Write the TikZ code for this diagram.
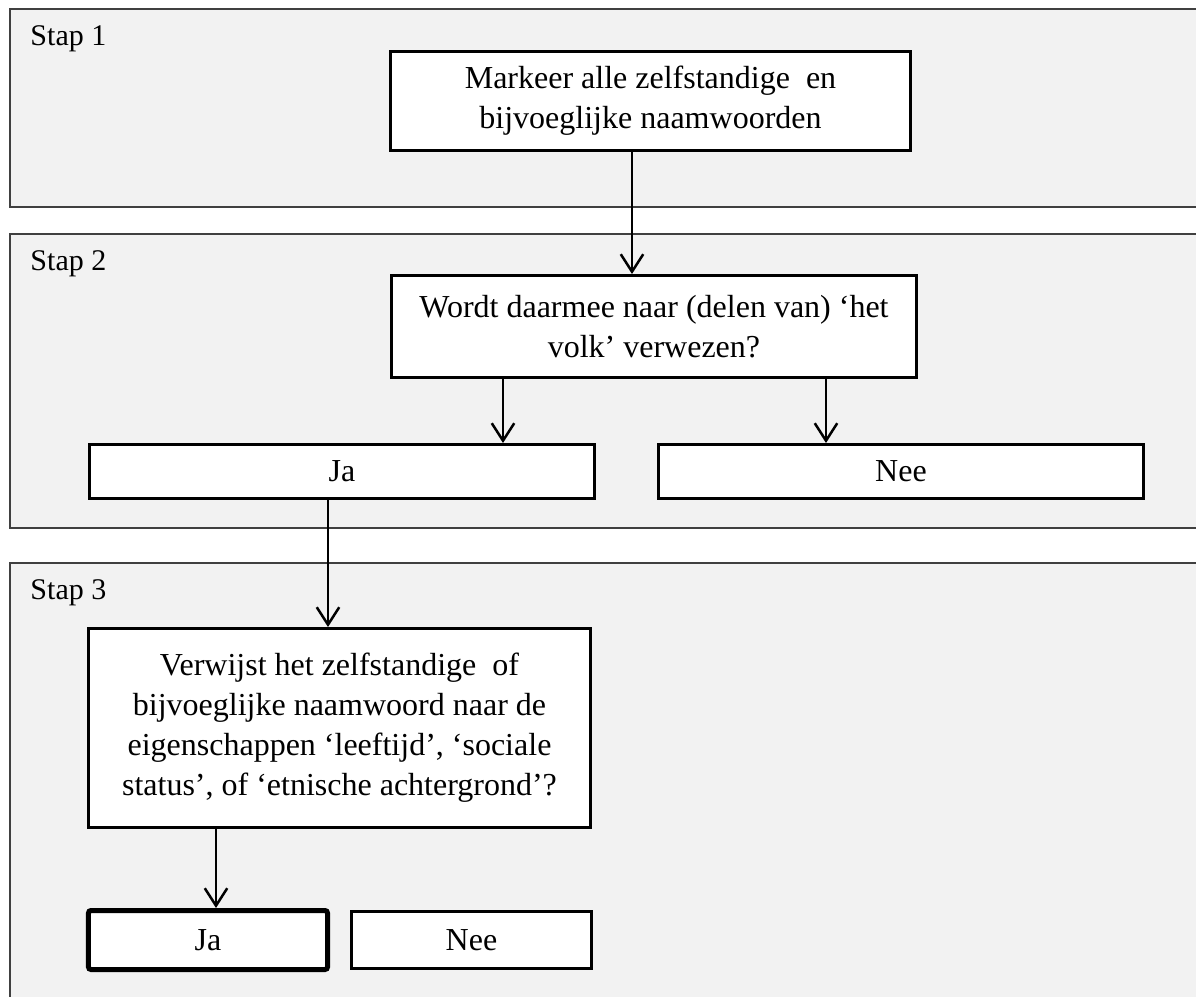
\documentclass[tikz,border=0pt]{standalone}
\usepackage{fontspec}
\setmainfont{Liberation Serif}
\usepackage{tikz}
\usetikzlibrary{arrows.meta,positioning}
\definecolor{panelgray}{HTML}{F2F2F2}
\definecolor{panelline}{HTML}{404040}

\begin{document}
\begin{tikzpicture}[x=0.4pt,y=-0.4pt,
    font=\fontsize{12}{16}\selectfont,
    panel/.style={draw=panelline,fill=panelgray,line width=0.6pt},
    box/.style={draw,fill=white,line width=1.2pt,align=center,inner sep=0pt,
      font=\fontsize{12.8}{16}\selectfont},
    arr/.style={-{Straight Barb[length=7pt,width=9pt]},line width=1pt}]
    \clip (0,0) rectangle (1196,996);
    \fill[white] (0,0) rectangle (1196,996);
    \draw[panel] (10,9) rectangle (1220,207);
    \draw[panel] (10,234) rectangle (1220,528);
    \draw[panel] (10,563) rectangle (1220,1020);
    \node[anchor=base west,inner sep=0pt] (stap1) at (30,45) {Stap 1};
    \node[anchor=base west,inner sep=0pt] (stap2) at (30,270) {Stap 2};
    \node[anchor=base west,inner sep=0pt] (stap3) at (30,599) {Stap 3};
    \node[box,minimum width=208pt,minimum height=39.6pt] (markeer) at (650.5,101)
      {Markeer alle zelfstandige\ \ en\\bijvoeglijke naamwoorden};
    \node[box,minimum width=210pt,minimum height=40.8pt] (volk) at (654,326.5)
      {Wordt daarmee naar (delen van) ‘het\\volk’ verwezen?};
    \node[box,minimum width=202pt,minimum height=21.6pt] (jaA) at (342,471.5) {Ja};
    \node[box,minimum width=193.6pt,minimum height=21.6pt] (neeA) at (901,471.5) {Nee};
    \node[box,minimum width=200.8pt,minimum height=79.6pt] (eigen) at (339.5,728)
      {Verwijst het zelfstandige\ \ of\\bijvoeglijke naamwoord naar de\\eigenschappen ‘leeftijd’, ‘sociale\\status’, of ‘etnische achtergrond’?};
    \node[box,line width=2pt,rounded corners=1pt,minimum width=95.6pt,minimum height=23.6pt] (jaB) at (208,940) {Ja};
    \node[box,minimum width=96pt,minimum height=22.8pt] (neeB) at (471.5,940) {Nee};
    \coordinate (t1) at (632,0);
    \coordinate (t2) at (503,0);
    \coordinate (t3) at (826,0);
    \coordinate (t4) at (328,0);
    \coordinate (t5) at (216,0);
    \draw[arr] (markeer.south -| t1) -- (volk.north -| t1);
    \draw[arr] (volk.south -| t2) -- (jaA.north -| t2);
    \draw[arr] (volk.south -| t3) -- (neeA.north -| t3);
    \draw[arr] (jaA.south -| t4) -- (eigen.north -| t4);
    \draw[arr] (eigen.south -| t5) -- (jaB.north -| t5);
\end{tikzpicture}
\end{document}
